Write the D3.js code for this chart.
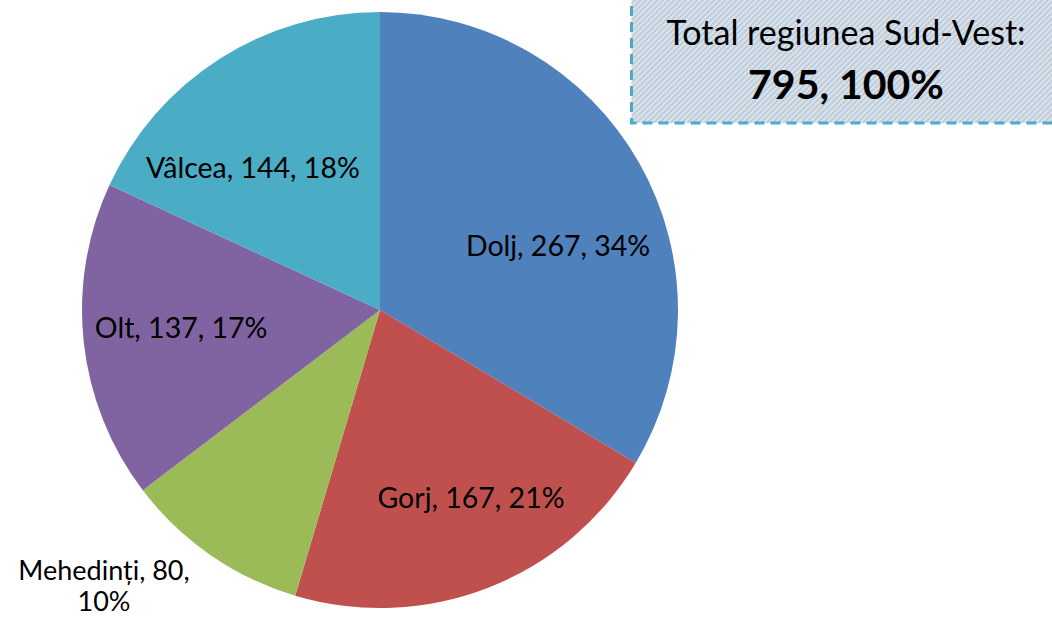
<!DOCTYPE html>
<html><head><meta charset="utf-8">
<script src="https://cdn.jsdelivr.net/npm/d3@7"></script>
<style>body{margin:0;background:#fff}svg{display:block}text{font-family:Lato,"Open Sans",sans-serif}</style>
</head><body>
<svg id="c" width="1052" height="618"></svg>
<script>
const categories = ["Dolj","Gorj","Mehedinți","Olt","Vâlcea"];
const values = [267,167,80,137,144];
const percents = ["34%","21%","10%","17%","18%"];
const colors = ["#4F81BD","#C0504D","#9BBB59","#8064A2","#4BACC6"];
const totalLabel = ["Total regiunea Sud-Vest:","795, 100%"];

const svg = d3.select("#c");
const cx = 380, cy = 310, r = 298;

const defs = svg.append("defs");
const pat = defs.append("pattern").attr("id","hatch").attr("patternUnits","userSpaceOnUse")
  .attr("width",4).attr("height",4).attr("patternTransform","rotate(45)");
pat.append("rect").attr("width",4).attr("height",4).attr("fill","#e2e2da");
pat.append("rect").attr("width",2).attr("height",4).attr("fill","#b6cdeb");

const pie = d3.pie().sort(null).value(d=>d)(values);
const arc = d3.arc().innerRadius(0).outerRadius(r);
const g = svg.append("g").attr("transform",`translate(${cx},${cy})`);
g.selectAll("path").data(pie).join("path").attr("d",arc).attr("fill",(d,i)=>colors[i]);

// layout: label angle shift (radians) and radius factor, Excel-like placement
const labelShift = [0.17, -0.08, 0, 0.02, -0.16];
const labelRad = [0.635, 0.70, 0, 0.67, 0.64];
pie.forEach((d,i)=>{
  if(i===2){
    svg.append("text").attr("x",104).attr("y",580).attr("text-anchor","middle").attr("font-size",27)
      .text(`${categories[i]}, ${values[i]},`);
    svg.append("text").attr("x",104).attr("y",611).attr("text-anchor","middle").attr("font-size",27)
      .text(percents[i]);
  } else {
    const a = (d.startAngle+d.endAngle)/2 + labelShift[i];
    const rr = r*labelRad[i];
    svg.append("text").attr("x",cx+Math.sin(a)*rr).attr("y",cy-Math.cos(a)*rr).attr("dy","0.35em")
      .attr("text-anchor","middle").attr("font-size",28.5).attr("fill","#000")
      .text(`${categories[i]}, ${values[i]}, ${percents[i]}`);
  }
});

// total box
svg.append("rect").attr("x",631.5).attr("y",-10).attr("width",440).attr("height",133)
  .attr("fill","url(#hatch)").attr("stroke","#4BACC6").attr("stroke-width",3).attr("stroke-dasharray","10,6");
svg.append("text").attr("x",846).attr("y",45).attr("text-anchor","middle").attr("font-size",34).text(totalLabel[0]);
svg.append("text").attr("x",846).attr("y",99).attr("text-anchor","middle").attr("font-size",41).attr("font-weight","bold").text(totalLabel[1]);
</script>
</body></html>
